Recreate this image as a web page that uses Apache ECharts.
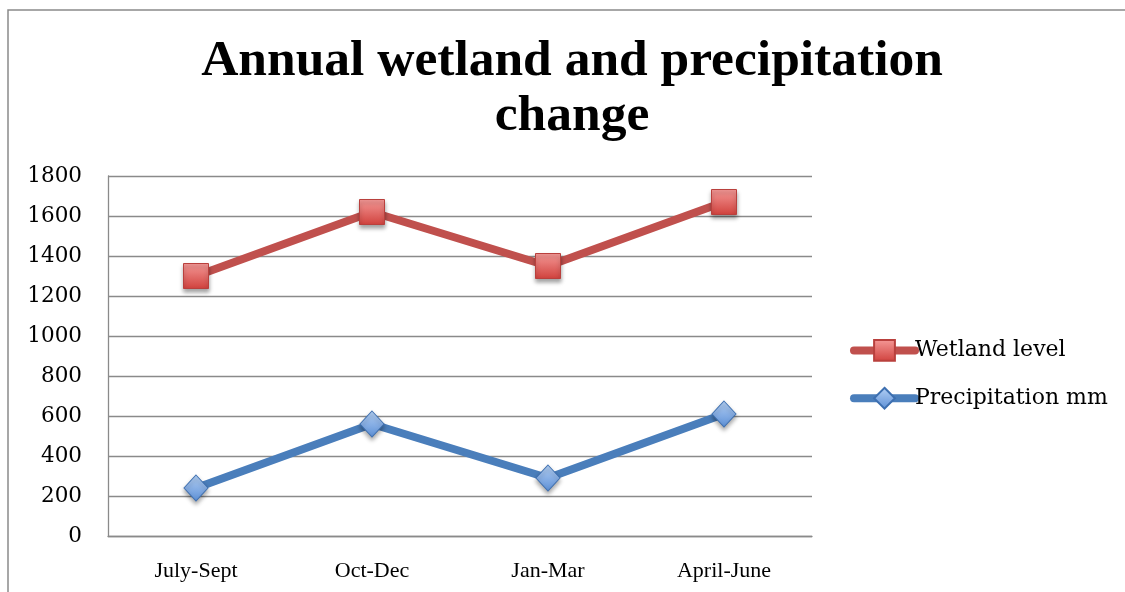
<!DOCTYPE html>
<html>
<head>
<meta charset="utf-8">
<script src="https://cdn.jsdelivr.net/npm/echarts@6/dist/echarts.min.js"></script>
<style>
  html, body { margin: 0; padding: 0; background: #fff; }
  #chart { width: 1125px; height: 592px; }
</style>
</head>
<body>
<div id="chart"></div>
<script>
// Quarterly wetland level against precipitation
const quarters = ['July-Sept', 'Oct-Dec', 'Jan-Mar', 'April-June'];
const wetlandLevel = [1300, 1620, 1350, 1670];
const precipitationMm = [240, 560, 290, 610];
const yTicks = { min: 0, max: 1800, step: 200 };

const serif = '"Liberation Serif", "DejaVu Serif", serif';
const wideSerif = '"DejaVu Serif", "Liberation Serif", serif';

const redGrad = new echarts.graphic.LinearGradient(0, 0, 0, 1, [
  { offset: 0, color: '#F59A98' },
  { offset: 1, color: '#D0413D' }
]);
const blueGrad = new echarts.graphic.LinearGradient(0, 0, 0, 1, [
  { offset: 0, color: '#B5D1F5' },
  { offset: 1, color: '#5C8FD6' }
]);

const chart = echarts.init(document.getElementById('chart'), null, { renderer: 'canvas' });

chart.setOption({
  backgroundColor: '#ffffff',
  animation: false,
  graphic: [{
    type: 'rect',
    shape: { x: 8, y: 10, width: 1140, height: 620 },
    style: { fill: 'none', stroke: '#8a8a8a', lineWidth: 1.5 },
    silent: true
  }],
  title: {
    text: 'Annual wetland and precipitation\nchange',
    left: 567,
    top: 29,
    textAlign: 'center',
    textStyle: {
      fontFamily: serif,
      fontWeight: 'bold',
      fontSize: 51.5,
      lineHeight: 55,
      color: '#000'
    }
  },
  grid: { left: 108, right: 313, top: 176, bottom: 56, containLabel: false },
  legend: {
    orient: 'vertical',
    left: 850,
    top: 339,
    padding: 0,
    itemWidth: 61,
    itemHeight: 26,
    itemGap: 25,
    lineStyle: { width: 8, cap: 'round' },
    textStyle: { fontFamily: wideSerif, fontSize: 22, color: '#000', padding: [0, 0, 0, -5] },
    data: ['Wetland level', 'Precipitation mm']
  },
  xAxis: {
    type: 'category',
    data: quarters,
    boundaryGap: true,
    axisLine: { show: true, lineStyle: { color: '#8a8a8a', width: 1.3 } },
    axisTick: { show: false },
    axisLabel: { fontFamily: serif, fontSize: 22, color: '#000', margin: 24 }
  },
  yAxis: {
    type: 'value',
    min: yTicks.min,
    max: yTicks.max,
    interval: yTicks.step,
    axisLine: { show: true, lineStyle: { color: '#8a8a8a', width: 1.3 } },
    axisTick: { show: false },
    splitLine: { lineStyle: { color: '#8a8a8a', width: 1.3 } },
    axisLabel: {
      fontFamily: wideSerif,
      fontSize: 21.5,
      color: '#000',
      margin: 26,
      formatter: (v) => String(v)
    }
  },
  series: [
    {
      name: 'Wetland level',
      type: 'line',
      data: wetlandLevel,
      symbol: 'rect',
      symbolSize: 25,
      lineStyle: { color: '#C0504D', width: 8 },
      itemStyle: {
        color: redGrad,
        borderColor: '#B9403D',
        borderWidth: 1,
        shadowColor: 'rgba(0,0,0,0.35)',
        shadowBlur: 4,
        shadowOffsetY: 3
      },
      z: 3
    },
    {
      name: 'Precipitation mm',
      type: 'line',
      data: precipitationMm,
      symbol: 'diamond',
      symbolSize: [24, 26],
      lineStyle: { color: '#4A7EBB', width: 8 },
      itemStyle: {
        color: blueGrad,
        borderColor: '#3D6FB0',
        borderWidth: 1,
        shadowColor: 'rgba(0,0,0,0.35)',
        shadowBlur: 4,
        shadowOffsetY: 3
      },
      z: 3
    }
  ]
});
</script>
</body>
</html>
